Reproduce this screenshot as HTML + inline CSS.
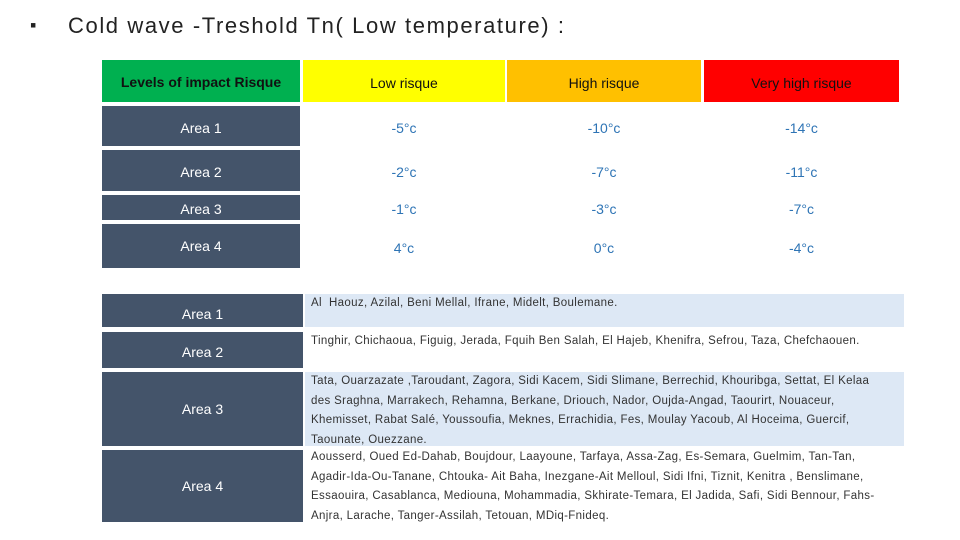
<!DOCTYPE html>
<html><head><meta charset="utf-8"><style>
body{margin:0;width:960px;height:540px;background:#fff;font-family:"Liberation Sans",sans-serif;position:relative;overflow:hidden}
.a{position:absolute;box-sizing:border-box;display:flex;align-items:center;justify-content:center}
.dk{background:#44546a;color:#fff;font-size:14px}
.v{color:#2e74b5;font-size:14px;padding-top:3px}
.t{position:absolute;box-sizing:border-box;font-size:11.5px;color:#333;line-height:19.5px;padding-left:6px;white-space:nowrap;letter-spacing:0.35px}
</style></head><body>
<div style="position:absolute;left:30px;top:13px;font-size:22px;color:#222;letter-spacing:1.6px"><span style="font-size:18px;position:relative;top:-2px">▪</span><span style="position:absolute;left:38px;top:0;white-space:nowrap">Cold wave -Treshold Tn( Low temperature) :</span></div>

<div class="a" style="left:102px;top:60px;width:198px;height:42px;background:#00b050;font-weight:bold;font-size:14px;color:#111;padding-top:2px">Levels of impact Risque</div>
<div class="a" style="left:303px;top:60px;width:202px;height:42px;background:#ffff00;font-size:14px;color:#111;padding-top:4px">Low risque</div>
<div class="a" style="left:507px;top:60px;width:194px;height:42px;background:#ffc000;font-size:14px;color:#111;padding-top:4px">High risque</div>
<div class="a" style="left:704px;top:60px;width:195px;height:42px;background:#ff0000;font-size:14px;color:#111;padding-top:4px">Very high risque</div>

<div class="a dk" style="left:102px;top:106px;width:198px;height:40px;padding-top:3px">Area 1</div>
<div class="a v" style="left:303px;top:106px;width:202px;height:40px">-5°c</div>
<div class="a v" style="left:507px;top:106px;width:194px;height:40px">-10°c</div>
<div class="a v" style="left:704px;top:106px;width:195px;height:40px">-14°c</div>

<div class="a dk" style="left:102px;top:150px;width:198px;height:41px;padding-top:3px">Area 2</div>
<div class="a v" style="left:303px;top:150px;width:202px;height:41px">-2°c</div>
<div class="a v" style="left:507px;top:150px;width:194px;height:41px">-7°c</div>
<div class="a v" style="left:704px;top:150px;width:195px;height:41px">-11°c</div>

<div class="a dk" style="left:102px;top:195px;width:198px;height:25px;padding-top:2px">Area 3</div>
<div class="a v" style="left:303px;top:195px;width:202px;height:25px">-1°c</div>
<div class="a v" style="left:507px;top:195px;width:194px;height:25px">-3°c</div>
<div class="a v" style="left:704px;top:195px;width:195px;height:25px">-7°c</div>

<div class="a dk" style="left:102px;top:224px;width:198px;height:44px">Area 4</div>
<div class="a v" style="left:303px;top:224px;width:202px;height:44px">4°c</div>
<div class="a v" style="left:507px;top:224px;width:194px;height:44px">0°c</div>
<div class="a v" style="left:704px;top:224px;width:195px;height:44px">-4°c</div>

<div class="a dk" style="left:102px;top:294px;width:201px;height:33px;padding-top:6px">Area 1</div>
<div class="t" style="left:305px;top:294px;width:599px;height:33px;background:#dde8f5;line-height:18px">Al&nbsp; Haouz, Azilal, Beni Mellal, Ifrane, Midelt, Boulemane.</div>

<div class="a dk" style="left:102px;top:332px;width:201px;height:36px;padding-top:4px">Area 2</div>
<div class="t" style="left:305px;top:332px;width:599px;height:36px;line-height:18px">Tinghir, Chichaoua, Figuig, Jerada, Fquih Ben Salah, El Hajeb, Khenifra, Sefrou, Taza, Chefchaouen.</div>

<div class="a dk" style="left:102px;top:372px;width:201px;height:74px">Area 3</div>
<div class="t" style="left:305px;top:372px;width:599px;height:74px;background:#dde8f5;padding-top:0px">Tata, Ouarzazate ,Taroudant, Zagora, Sidi Kacem, Sidi Slimane, Berrechid, Khouribga, Settat, El Kelaa<br>des Sraghna, Marrakech, Rehamna, Berkane, Driouch, Nador, Oujda-Angad, Taourirt, Nouaceur,<br>Khemisset, Rabat Salé, Youssoufia, Meknes, Errachidia, Fes, Moulay Yacoub, Al Hoceima, Guercif,<br>Taounate, Ouezzane.</div>

<div class="a dk" style="left:102px;top:450px;width:201px;height:72px">Area 4</div>
<div class="t" style="left:305px;top:446px;width:599px;height:80px;padding-top:2px">Aousserd, Oued Ed-Dahab, Boujdour, Laayoune, Tarfaya, Assa-Zag, Es-Semara, Guelmim, Tan-Tan,<br>Agadir-Ida-Ou-Tanane, Chtouka- Ait Baha, Inezgane-Ait Melloul, Sidi Ifni, Tiznit, Kenitra , Benslimane,<br>Essaouira, Casablanca, Mediouna, Mohammadia, Skhirate-Temara, El Jadida, Safi, Sidi Bennour, Fahs-<br>Anjra, Larache, Tanger-Assilah, Tetouan, MDiq-Fnideq.</div>
</body></html>
